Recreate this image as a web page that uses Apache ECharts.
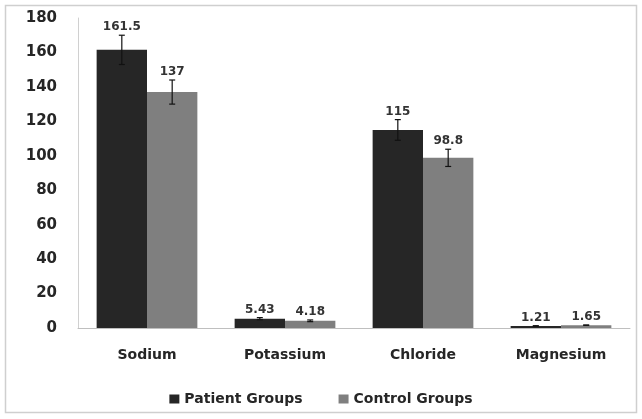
<!DOCTYPE html>
<html><head><meta charset="utf-8">
<script src="https://cdn.jsdelivr.net/npm/echarts@6/dist/echarts.min.js"></script>
<style>html,body{margin:0;padding:0;background:#fff}#c{width:642px;height:419px}</style>
</head><body><div id="c"></div>
<script>
const categories = ['Sodium','Potassium','Chloride','Magnesium'];
const patientValues = [161.5, 5.43, 115, 1.21];
const controlValues = [137, 4.18, 98.8, 1.65];
const patientErrors = [8.5, 0.6, 6, 0.1];
const controlErrors = [7, 0.5, 5, 0.1];
const patientLabels = ['161.5','5.43','115','1.21'];
const controlLabels = ['137','4.18','98.8','1.65'];
const yTicks = [0,20,40,60,80,100,120,140,160,180];

const gapFrac = 0.27;
const font = "'DejaVu Sans', sans-serif";
const txt = '#262626';
function errSeries(name, vals, errs, labels, side) {
  return {
    type: 'custom', name: name + ' err', silent: true, z: 5,
    data: vals.map((v,i)=>[i, v, errs[i], labels[i]]),
    renderItem: function(params, api) {
      const i = api.value(0), v = api.value(1), e = api.value(2);
      const band = api.size([1,0])[0];
      const bw = band*(1-gapFrac)/2;
      const c = api.coord([i, v]);
      const x = c[0] + side*bw/2;
      const top = api.coord([i, v+e])[1];
      const bot = api.coord([i, Math.max(0,v-e)])[1];
      const cap = 3;
      const st = {stroke:'#111', lineWidth:1.2};
      return {type:'group', children:[
        {type:'line', shape:{x1:x,y1:top,x2:x,y2:bot}, style:st},
        {type:'line', shape:{x1:x-cap,y1:top,x2:x+cap,y2:top}, style:st},
        {type:'line', shape:{x1:x-cap,y1:bot,x2:x+cap,y2:bot}, style:st},
        {type:'text', x:x, y:top-2, style:{text: labels[i], textAlign:'center', textVerticalAlign:'bottom', font:"bold 12px " + font, fill:'#333'}}
      ]};
    }
  };
}
const chart = echarts.init(document.getElementById('c'));
chart.setOption({
  backgroundColor:'#fff',
  animation:false,
  graphic:[{type:'rect', shape:{x:5.5,y:5.5,width:631,height:407}, style:{fill:'none', stroke:'#cfcfcf', lineWidth:1.5}, z:-1}],
  grid:{left:78, right:12, top:18, bottom:91},
  legend:{bottom:8, left:'center', itemWidth:10, itemHeight:9, itemGap:36, icon:'rect',
    data:['Patient Groups','Control Groups'],
    textStyle:{fontFamily:font, fontWeight:'bold', fontSize:14, color:txt}},
  xAxis:{type:'category', data:categories,
    axisLine:{lineStyle:{color:'#bfbfbf'}}, axisTick:{show:false},
    axisLabel:{margin:20, fontFamily:font, fontWeight:'bold', fontSize:14, color:txt}},
  yAxis:{type:'value', min:0, max:180, interval:20,
    axisLine:{show:true, lineStyle:{color:'#d0d0d0'}}, axisTick:{show:false}, splitLine:{show:false},
    axisLabel:{margin:21, fontFamily:font, fontWeight:'bold', fontSize:15, color:txt,
      formatter:v=>yTicks.includes(v)?String(v):''}},
  series:[
    {name:'Patient Groups', type:'bar', data:patientValues, barGap:'0%', barCategoryGap:(gapFrac*100)+'%', itemStyle:{color:'#262626'}},
    {name:'Control Groups', type:'bar', data:controlValues, barGap:'0%', barCategoryGap:(gapFrac*100)+'%', itemStyle:{color:'#7f7f7f'}},
    errSeries('Patient Groups', patientValues, patientErrors, patientLabels, -1),
    errSeries('Control Groups', controlValues, controlErrors, controlLabels, 1)
  ]
});
</script></body></html>
